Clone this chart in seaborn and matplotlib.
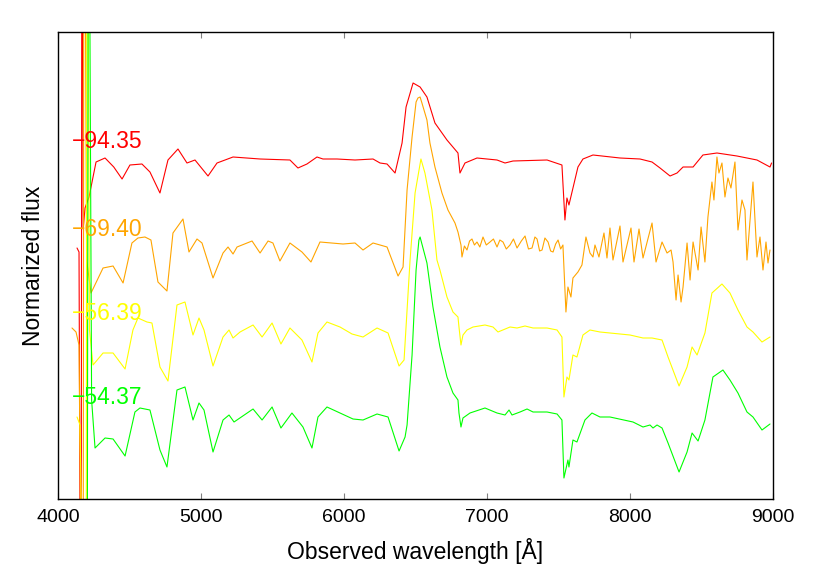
import numpy as np
import pandas as pd
import seaborn as sns
import matplotlib
matplotlib.use("Agg")
from matplotlib import pyplot as plt

# phases (days) shown next to each spectrum
phases = ["\u221294.35", "\u221269.40", "\u221256.39", "\u221254.37"]
colors = ["#ff0000", "#ffa500", "#ffff00", "#00ff00"]
label_y = [3.57, 2.70, 1.86, 1.01]

# spectrum 1 (offset flux)
wave_1 = [4133, 4147, 4161, 4168, 4176, 4189, 4217, 4266, 4329, 4390, 4448, 4503, 4587,
          4643, 4713, 4769, 4839, 4902, 4958, 5049, 5112, 5224, 5413, 5622, 5678, 5741,
          5811, 5853, 5951, 6077, 6203, 6252, 6301, 6357, 6406, 6434, 6483, 6532, 6580,
          6636, 6720, 6797, 6811, 6846, 6930, 7070, 7126, 7182, 7420, 7524, 7545, 7559,
          7573, 7636, 7671, 7741, 7930, 8070, 8154, 8210, 8280, 8329, 8371, 8441, 8510,
          8608, 8748, 8888, 8979, 8990]
flux_1 = [2.51, 2.47, -3.0, 8.0, 2.70, 2.91, 3.02, 3.37, 3.41, 3.32, 3.20, 3.34, 3.35,
          3.27, 3.06, 3.39, 3.50, 3.36, 3.39, 3.23, 3.36, 3.42, 3.40, 3.39, 3.31, 3.35,
          3.42, 3.40, 3.40, 3.39, 3.40, 3.36, 3.35, 3.26, 3.56, 3.92, 4.16, 4.12, 4.02,
          3.76, 3.59, 3.46, 3.26, 3.36, 3.41, 3.39, 3.36, 3.38, 3.39, 3.34, 2.79, 3.01,
          2.94, 3.32, 3.40, 3.44, 3.41, 3.40, 3.37, 3.31, 3.23, 3.26, 3.32, 3.32, 3.44,
          3.46, 3.43, 3.39, 3.32, 3.36]

# spectrum 2
wave_2 = [4098, 4126, 4147, 4175, 4182, 4200, 4231, 4315, 4385, 4455, 4517, 4559, 4608,
          4650, 4699, 4762, 4804, 4874, 4916, 4972, 5007, 5084, 5154, 5189, 5224, 5252,
          5357, 5413, 5469, 5503, 5552, 5622, 5706, 5769, 5832, 5993, 6077, 6133, 6203,
          6301, 6378, 6413, 6441, 6476, 6504, 6517, 6532, 6545, 6580, 6601, 6636, 6685,
          6727, 6776, 6797, 6818, 6825, 6842, 6860, 6878, 6895, 6912, 6930, 6950, 6972,
          6995, 7021, 7045, 7070, 7090, 7112, 7135, 7161, 7185, 7210, 7240, 7266, 7290,
          7315, 7335, 7350, 7368, 7385, 7405, 7427, 7445, 7462, 7480, 7497, 7515, 7531,
          7552, 7566, 7587, 7601, 7636, 7664, 7692, 7720, 7741, 7755, 7783, 7818, 7839,
          7860, 7881, 7930, 7951, 8007, 8028, 8063, 8091, 8154, 8182, 8224, 8259, 8287,
          8301, 8322, 8336, 8357, 8371, 8399, 8420, 8441, 8476, 8497, 8524, 8545, 8573,
          8587, 8608, 8622, 8643, 8664, 8685, 8706, 8734, 8755, 8783, 8804, 8818, 8860,
          8888, 8909, 8930, 8951, 8965, 8979]
flux_2 = [1.71, 1.67, 1.54, -3.0, 8.0, 2.39, 2.06, 2.31, 2.33, 2.16, 2.56, 2.61, 2.62,
          2.59, 2.17, 2.08, 2.66, 2.80, 2.47, 2.60, 2.56, 2.21, 2.46, 2.52, 2.45, 2.52,
          2.58, 2.46, 2.58, 2.56, 2.38, 2.56, 2.47, 2.37, 2.57, 2.55, 2.56, 2.49, 2.56,
          2.52, 2.23, 2.32, 3.09, 3.62, 3.97, 4.01, 4.02, 3.96, 3.79, 3.56, 3.32, 3.06,
          2.89, 2.76, 2.67, 2.54, 2.42, 2.53, 2.49, 2.58, 2.60, 2.54, 2.57, 2.52, 2.62,
          2.54, 2.57, 2.60, 2.52, 2.59, 2.57, 2.50, 2.54, 2.60, 2.51, 2.58, 2.63, 2.50,
          2.51, 2.62, 2.60, 2.48, 2.49, 2.61, 2.57, 2.48, 2.47, 2.55, 2.59, 2.50, 2.54,
          1.87, 2.12, 2.02, 2.21, 2.27, 2.34, 2.62, 2.46, 2.42, 2.54, 2.42, 2.66, 2.41,
          2.71, 2.39, 2.73, 2.37, 2.71, 2.37, 2.70, 2.41, 2.76, 2.37, 2.57, 2.46, 2.49,
          2.37, 1.99, 2.24, 1.97, 2.12, 2.56, 2.19, 2.57, 2.29, 2.72, 2.37, 2.82, 3.17,
          2.99, 3.42, 3.26, 3.36, 3.02, 3.21, 3.11, 3.37, 2.69, 2.99, 2.89, 2.39, 3.17,
          2.42, 2.62, 2.29, 2.57, 2.36, 2.49]

# spectrum 3
wave_3 = [4133, 4154, 4196, 4203, 4220, 4245, 4315, 4385, 4469, 4524, 4559, 4622, 4657,
          4713, 4769, 4832, 4888, 4944, 4986, 5021, 5084, 5154, 5196, 5224, 5273, 5364,
          5427, 5497, 5559, 5622, 5706, 5776, 5818, 5881, 5972, 6056, 6133, 6231, 6308,
          6385, 6420, 6462, 6497, 6538, 6566, 6615, 6650, 6671, 6720, 6762, 6797, 6804,
          6818, 6832, 6860, 6902, 6986, 7042, 7077, 7161, 7210, 7266, 7322, 7420, 7490,
          7524, 7538, 7559, 7573, 7601, 7629, 7671, 7720, 7790, 7860, 8000, 8091, 8154,
          8224, 8266, 8343, 8399, 8434, 8469, 8524, 8573, 8643, 8699, 8755, 8818, 8860,
          8923, 8979]
flux_3 = [0.82, 0.74, -3.0, 8.0, 1.69, 1.34, 1.46, 1.46, 1.30, 1.69, 1.81, 1.77, 1.76,
          1.32, 1.18, 1.94, 1.97, 1.64, 1.81, 1.69, 1.33, 1.62, 1.69, 1.61, 1.67, 1.74,
          1.62, 1.76, 1.55, 1.71, 1.59, 1.37, 1.66, 1.77, 1.72, 1.65, 1.62, 1.71, 1.66,
          1.33, 1.39, 2.39, 3.06, 3.40, 3.26, 2.89, 2.39, 2.29, 2.02, 1.87, 1.82, 1.72,
          1.54, 1.64, 1.69, 1.72, 1.74, 1.72, 1.67, 1.72, 1.71, 1.73, 1.71, 1.71, 1.69,
          1.62, 1.02, 1.22, 1.19, 1.44, 1.42, 1.64, 1.69, 1.67, 1.66, 1.64, 1.61, 1.61,
          1.59, 1.42, 1.13, 1.32, 1.52, 1.44, 1.66, 2.06, 2.15, 2.06, 1.89, 1.72, 1.67,
          1.57, 1.62]

# spectrum 4
wave_4 = [4150, 4203, 4213, 4235, 4259, 4329, 4385, 4469, 4538, 4573, 4643, 4713, 4762,
          4832, 4888, 4944, 4986, 5021, 5084, 5154, 5196, 5231, 5364, 5427, 5497, 5559,
          5636, 5713, 5776, 5818, 5881, 5972, 6063, 6133, 6231, 6308, 6385, 6427, 6441,
          6476, 6504, 6524, 6532, 6580, 6622, 6671, 6720, 6762, 6797, 6804, 6818, 6832,
          6881, 6986, 7070, 7126, 7154, 7175, 7231, 7280, 7322, 7420, 7490, 7524, 7538,
          7566, 7573, 7601, 7629, 7685, 7734, 7790, 7860, 8021, 8091, 8140, 8161, 8189,
          8224, 8266, 8343, 8399, 8434, 8476, 8524, 8580, 8650, 8699, 8755, 8818, 8860,
          8923, 8979]
flux_4 = [-0.1, -3.0, 8.0, 0.99, 0.51, 0.61, 0.60, 0.43, 0.87, 0.91, 0.89, 0.49, 0.32,
          1.09, 1.12, 0.79, 0.96, 0.89, 0.47, 0.79, 0.84, 0.77, 0.90, 0.79, 0.92, 0.71,
          0.86, 0.72, 0.51, 0.82, 0.92, 0.86, 0.80, 0.79, 0.85, 0.82, 0.48, 0.62, 0.74,
          1.44, 2.29, 2.59, 2.62, 2.36, 1.92, 1.52, 1.22, 1.06, 0.99, 0.86, 0.72, 0.81,
          0.86, 0.91, 0.86, 0.84, 0.89, 0.84, 0.87, 0.90, 0.87, 0.87, 0.85, 0.79, 0.21,
          0.39, 0.32, 0.59, 0.57, 0.79, 0.86, 0.82, 0.82, 0.77, 0.72, 0.74, 0.71, 0.74,
          0.71, 0.56, 0.27, 0.47, 0.66, 0.58, 0.79, 1.22, 1.29, 1.19, 1.06, 0.87, 0.82,
          0.69, 0.75]

waves = [wave_1, wave_2, wave_3, wave_4]
fluxes = [flux_1, flux_2, flux_3, flux_4]

frames = []
for ph, w, f in zip(phases, waves, fluxes):
    frames.append(pd.DataFrame({"wave": w, "flux": f, "phase": ph}))
df = pd.concat(frames, ignore_index=True)

sns.set_style("white")
plt.rcParams["font.family"] = ["Liberation Sans", "DejaVu Sans"]
plt.rcParams["text.color"] = "black"
plt.rcParams["axes.labelcolor"] = "black"
plt.rcParams["xtick.labelcolor"] = "black"

fig = plt.figure(figsize=(8.3, 5.81), dpi=100)
ax = fig.add_axes([58 / 830, 82 / 581, 715 / 830, 467 / 581])

sns.lineplot(data=df, x="wave", y="flux", hue="phase", hue_order=phases,
             palette=dict(zip(phases, colors)), sort=False, estimator=None,
             linewidth=0.8, legend=False, ax=ax)

#phase labels
for ph, c, yl in zip(phases, colors, label_y):
    ax.text(4100, yl, ph, color=c, fontsize=16.5, ha="left", va="center")

ax.set_xlim(4000, 9000)
ax.set_ylim(0, 4.67)
ax.set_xticks([4000, 5000, 6000, 7000, 8000, 9000])
ax.set_yticks([])
ax.tick_params(axis="x", direction="in", top=True, bottom=True, length=4,
               color="gray", labelcolor="black", labelsize=14, pad=7.5)
for sp in ax.spines.values():
    sp.set_color("black")
    sp.set_linewidth(1.0)

ax.set_xlabel("Observed wavelength [Å]", fontsize=16.5, labelpad=8, color="black")
ax.set_ylabel("Normarized flux", fontsize=16.5, color="black")
ax.yaxis.set_label_coords(-0.018, 0.5)

fig.savefig("out.png", dpi=100)
